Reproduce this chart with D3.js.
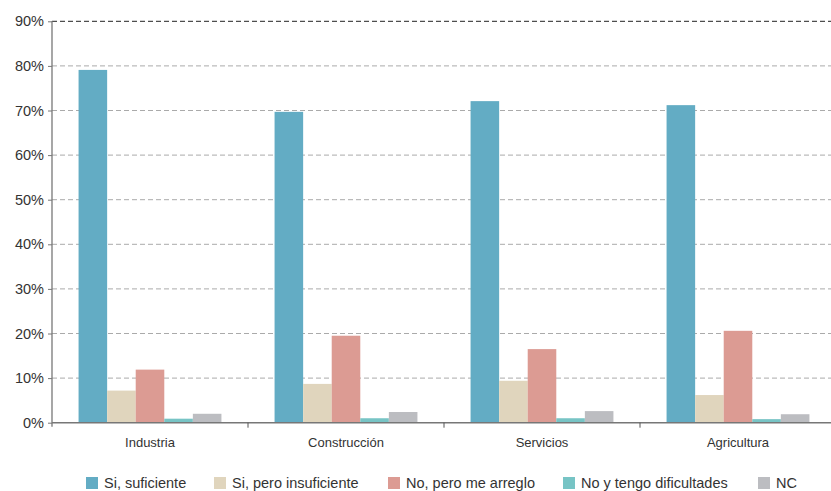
<!DOCTYPE html>
<html><head><meta charset="utf-8">
<script src="https://cdn.jsdelivr.net/npm/d3@7"></script>
<style>body{margin:0;background:#fff}svg{display:block}text{font-family:"Liberation Sans",Arial,Helvetica,sans-serif;fill:#333}</style>
</head><body><svg id="c" width="831" height="491"></svg>
<script>
const categories = ["Industria","Construcción","Servicios","Agricultura"];
const seriesNames = ["Si, suficiente","Si, pero insuficiente","No, pero me arreglo","No y tengo dificultades","NC"];
const siSuficiente = [79.1, 69.7, 72.1, 71.2];
const siInsuficiente = [7.2, 8.7, 9.4, 6.2];
const noArreglo = [11.9, 19.5, 16.5, 20.6];
const noDificultades = [0.9, 1.0, 1.0, 0.8];
const nc = [2.0, 2.4, 2.6, 1.9];
const yTicks = [0,10,20,30,40,50,60,70,80,90];
const colors = ["#63acc4","#e0d5bd","#dc9b93","#77c4c5","#bcbdc1"];

const series = [siSuficiente, siInsuficiente, noArreglo, noDificultades, nc];
const svg = d3.select("#c");
const m = {l:52, r:836, t:21.3, b:422.7};
const x = d3.scaleBand().domain(categories).range([m.l, m.r]);
const x1 = d3.scaleBand().domain(seriesNames).range([0, x.bandwidth()]).paddingOuter(0.93).paddingInner(0);
const y = d3.scaleLinear().domain([0,90]).range([m.b, m.t]);

// gridlines
svg.append("g").selectAll("line").data(yTicks.filter(d=>d>0)).join("line")
  .attr("x1", m.l).attr("x2", 838).attr("y1", d=>y(d)).attr("y2", d=>y(d))
  .attr("stroke", d=> d===90 ? "#222" : "#aaa").attr("stroke-width",1)
  .attr("stroke-dasharray","5,3");

// bars
const g = svg.append("g");
categories.forEach((c,i)=>{
  seriesNames.forEach((s,j)=>{
    g.append("rect").attr("x", x(c)+x1(s)).attr("width", x1.bandwidth())
      .attr("y", y(series[j][i])).attr("height", y(0)-y(series[j][i]))
      .attr("fill", colors[j]);
  });
});

// y axis
const ya = svg.append("g").attr("transform",`translate(${m.l},0)`)
  .call(d3.axisLeft(y).tickValues(yTicks).tickFormat(d=>d+"%").tickSize(4).tickSizeOuter(0));
ya.select(".domain").attr("stroke","#777").attr("stroke-width",1.3);
ya.selectAll(".tick line").attr("stroke","#777");
ya.selectAll(".tick text").attr("font-size",14.5).attr("fill","#333").attr("x",-8);
ya.select(".domain").attr("d",`M0,${m.t}V${m.b+4}`);

// x axis
svg.append("line").attr("x1",m.l).attr("x2",838).attr("y1",y(0)).attr("y2",y(0)).attr("stroke","#777").attr("stroke-width",1.5);
svg.append("g").selectAll("line").data(categories.slice(1)).join("line")
  .attr("x1", d=>x(d)).attr("x2", d=>x(d)).attr("y1", y(0)).attr("y2", y(0)+5).attr("stroke","#555");
svg.append("g").selectAll("text").data(categories).join("text")
  .attr("x", d=>x(d)+x.bandwidth()/2).attr("y", 447).attr("text-anchor","middle")
  .attr("font-size",13).text(d=>d);

// legend
const legX = [86, 214, 388, 563, 758];
const lg = svg.append("g");
seriesNames.forEach((s,j)=>{
  lg.append("rect").attr("x",legX[j]).attr("y",477).attr("width",12).attr("height",12).attr("fill",colors[j]);
  lg.append("text").attr("x",legX[j]+18).attr("y",488).attr("font-size",14.5).text(s);
});
</script></body></html>
